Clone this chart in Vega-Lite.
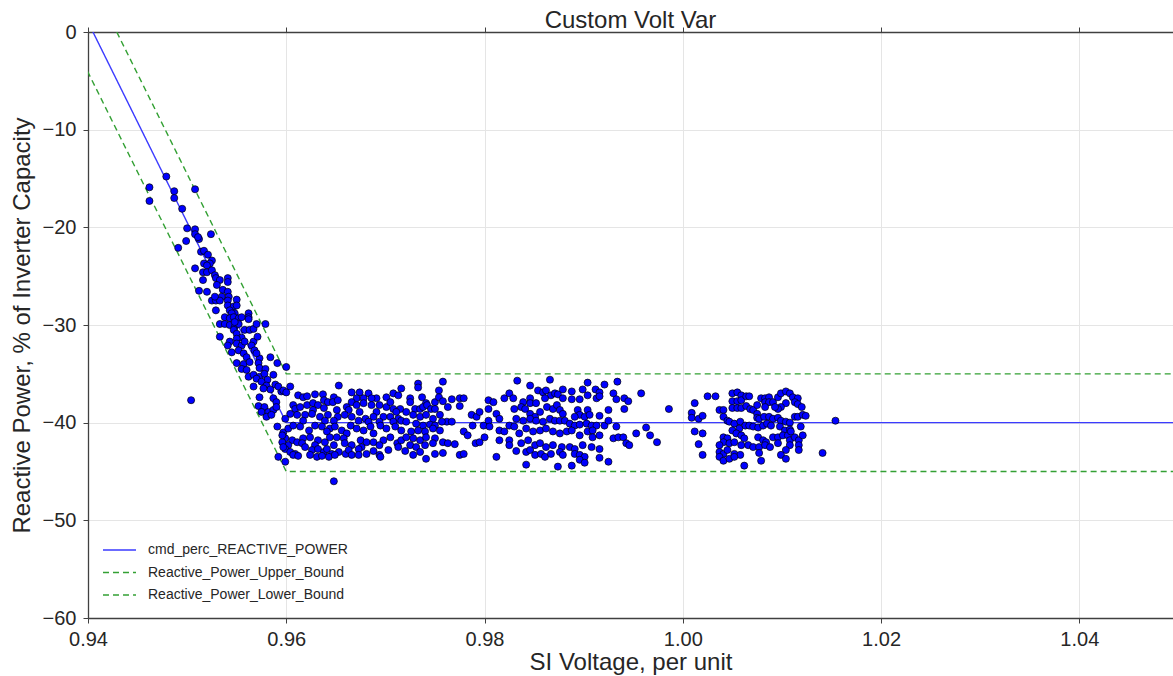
{
  "$schema": "https://vega.github.io/schema/vega-lite/v6.json",
  "width": 1085,
  "height": 586,
  "autosize": {"type": "none"},
  "padding": {"left": 88, "top": 32, "right": 0, "bottom": 58},
  "background": "#ffffff",
  "title": {"text": "Custom Volt Var", "fontSize": 24, "font": "Liberation Sans", "fontWeight": "normal", "color": "#262626", "anchor": "middle", "offset": -11},
  "config": {
    "view": {"stroke": null},
    "axis": {"labelFont": "Liberation Sans", "labelFontSize": 20, "labelColor": "#262626", "titleFont": "Liberation Sans", "titleFontSize": 24, "titleFontWeight": "normal", "titleColor": "#262626", "domainColor": "#404040", "domainWidth": 1.3, "tickColor": "#404040", "tickSize": 5, "tickWidth": 1, "gridColor": "#e5e5e5", "gridWidth": 1, "labelOverlap": false, "labelFlush": false}
  },
  "datasets": {
    "lines": [
      {"V": 0.9405, "Q": 0, "series": "cmd_perc_REACTIVE_POWER"},
      {"V": 0.96, "Q": -40, "series": "cmd_perc_REACTIVE_POWER"},
      {"V": 1.06, "Q": -40, "series": "cmd_perc_REACTIVE_POWER"},
      {"V": 0.9429, "Q": 0, "series": "Reactive_Power_Upper_Bound"},
      {"V": 0.96, "Q": -35, "series": "Reactive_Power_Upper_Bound"},
      {"V": 1.06, "Q": -35, "series": "Reactive_Power_Upper_Bound"},
      {"V": 0.9395, "Q": -3.1, "series": "Reactive_Power_Lower_Bound"},
      {"V": 0.96, "Q": -45, "series": "Reactive_Power_Lower_Bound"},
      {"V": 1.06, "Q": -45, "series": "Reactive_Power_Lower_Bound"}
    ],
    "pts": [
      {"V":0.9462,"Q":-15.9},{"V":0.9462,"Q":-17.3},{"V":0.9479,"Q":-14.8},{"V":0.9487,"Q":-16.3},{"V":0.9487,"Q":-17.0},{"V":0.9495,"Q":-18.1},{"V":0.9508,"Q":-16.1},{"V":0.9500,"Q":-20.1},{"V":0.9508,"Q":-20.2},{"V":0.9508,"Q":-20.7},{"V":0.9512,"Q":-21.2},{"V":0.9524,"Q":-20.7},{"V":0.9491,"Q":-22.1},{"V":0.9504,"Q":-37.7},
      {"V":0.9499,"Q":-21.4},{"V":0.9511,"Q":-21.0},{"V":0.9514,"Q":-22.5},{"V":0.9517,"Q":-22.4},{"V":0.9521,"Q":-22.8},{"V":0.9525,"Q":-23.4},{"V":0.9523,"Q":-23.7},{"V":0.9508,"Q":-24.2},{"V":0.9517,"Q":-23.7},{"V":0.9520,"Q":-23.9},
      {"V":0.9516,"Q":-24.6},{"V":0.9520,"Q":-24.6},{"V":0.9525,"Q":-24.4},{"V":0.9528,"Q":-24.9},{"V":0.9529,"Q":-25.2},{"V":0.9533,"Q":-25.4},{"V":0.9541,"Q":-25.2},{"V":0.9541,"Q":-25.6},{"V":0.9516,"Q":-25.4},
      {"V":0.9530,"Q":-25.9},{"V":0.9536,"Q":-26.4},{"V":0.9541,"Q":-26.6},{"V":0.9512,"Q":-26.5},{"V":0.9520,"Q":-26.6},{"V":0.9535,"Q":-27.1},{"V":0.9542,"Q":-27.1},
      {"V":0.9525,"Q":-27.5},{"V":0.9529,"Q":-27.5},{"V":0.9533,"Q":-27.5},{"V":0.9528,"Q":-27.1},{"V":0.9541,"Q":-27.5},{"V":0.9550,"Q":-27.4},{"V":0.9541,"Q":-28.0},{"V":0.9547,"Q":-28.1},{"V":0.9543,"Q":-28.5},{"V":0.9550,"Q":-28.0},{"V":0.9529,"Q":-28.5},{"V":0.9548,"Q":-28.8},{"V":0.9545,"Q":-28.8},{"V":0.9562,"Q":-28.8},{"V":0.9562,"Q":-29.2},
      {"V":0.9538,"Q":-29.2},{"V":0.9543,"Q":-29.3},{"V":0.9547,"Q":-29.2},{"V":0.9552,"Q":-29.3},{"V":0.9555,"Q":-29.2},{"V":0.9562,"Q":-29.4},{"V":0.9533,"Q":-29.9},{"V":0.9538,"Q":-29.9},{"V":0.9543,"Q":-30.0},{"V":0.9548,"Q":-30.2},{"V":0.9552,"Q":-29.9},{"V":0.9558,"Q":-30.5},{"V":0.9563,"Q":-30.5},{"V":0.9567,"Q":-30.4},{"V":0.9570,"Q":-29.9},{"V":0.9579,"Q":-29.9},{"V":0.9547,"Q":-30.5},{"V":0.9548,"Q":-29.7},
      {"V":0.9533,"Q":-31.2},{"V":0.9550,"Q":-30.9},{"V":0.9555,"Q":-31.3},{"V":0.9550,"Q":-31.4},{"V":0.9543,"Q":-31.7},{"V":0.9550,"Q":-31.9},{"V":0.9555,"Q":-32.1},{"V":0.9567,"Q":-31.7},{"V":0.9571,"Q":-31.2},{"V":0.9541,"Q":-32.1},{"V":0.9565,"Q":-32.1},{"V":0.9558,"Q":-31.7},
      {"V":0.9545,"Q":-32.8},{"V":0.9552,"Q":-32.6},{"V":0.9557,"Q":-32.9},{"V":0.9560,"Q":-33.3},{"V":0.9568,"Q":-32.6},{"V":0.9573,"Q":-33.4},{"V":0.9584,"Q":-33.3},{"V":0.9550,"Q":-33.9},{"V":0.9557,"Q":-34.0},{"V":0.9570,"Q":-32.9},{"V":0.9563,"Q":-33.8},{"V":0.9572,"Q":-33.9},
      {"V":0.9555,"Q":-34.5},{"V":0.9560,"Q":-34.6},{"V":0.9573,"Q":-34.4},{"V":0.9579,"Q":-34.5},{"V":0.9591,"Q":-33.9},{"V":0.9562,"Q":-35.3},{"V":0.9567,"Q":-35.1},{"V":0.9573,"Q":-35.3},{"V":0.9570,"Q":-35.5},{"V":0.9578,"Q":-35.0},{"V":0.9587,"Q":-35.1},{"V":0.9581,"Q":-35.6},
      {"V":0.9567,"Q":-36.3},{"V":0.9575,"Q":-35.8},{"V":0.9580,"Q":-36.2},{"V":0.9584,"Q":-36.6},{"V":0.9589,"Q":-36.1},{"V":0.9595,"Q":-36.8},{"V":0.9577,"Q":-36.5},{"V":0.9592,"Q":-36.3},
      {"V":0.9573,"Q":-37.4},{"V":0.9587,"Q":-37.5},{"V":0.9590,"Q":-37.9},{"V":0.9572,"Q":-38.3},{"V":0.9578,"Q":-38.4},{"V":0.9575,"Q":-38.9},{"V":0.9582,"Q":-38.9},{"V":0.9587,"Q":-38.7},{"V":0.9590,"Q":-38.4},{"V":0.9580,"Q":-39.4},{"V":0.9585,"Q":-39.2},{"V":0.9591,"Q":-40.4},{"V":0.9592,"Q":-43.5},
      {"V":0.9600,"Q":-34.3},{"V":0.9604,"Q":-36.3},{"V":0.9653,"Q":-36.2},{"V":0.9666,"Q":-36.9},{"V":0.9674,"Q":-36.9},{"V":0.9683,"Q":-37.0},{"V":0.9691,"Q":-37.5},{"V":0.9701,"Q":-37.4},{"V":0.9708,"Q":-37.0},{"V":0.9713,"Q":-37.2},{"V":0.9716,"Q":-36.5},
      {"V":0.9612,"Q":-37.2},{"V":0.9617,"Q":-37.4},{"V":0.9621,"Q":-37.3},{"V":0.9629,"Q":-37.1},{"V":0.9637,"Q":-37.1},{"V":0.9648,"Q":-37.4},{"V":0.9638,"Q":-37.7},{"V":0.9671,"Q":-37.5},{"V":0.9678,"Q":-37.5},{"V":0.9686,"Q":-37.5},{"V":0.9597,"Q":-36.7},{"V":0.9600,"Q":-36.9},
      {"V":0.9607,"Q":-38.2},{"V":0.9609,"Q":-38.6},{"V":0.9614,"Q":-38.4},{"V":0.9621,"Q":-38.2},{"V":0.9627,"Q":-38.0},{"V":0.9632,"Q":-38.2},{"V":0.9642,"Q":-37.9},{"V":0.9647,"Q":-37.9},{"V":0.9652,"Q":-37.7},{"V":0.9661,"Q":-38.4},{"V":0.9666,"Q":-37.9},{"V":0.9671,"Q":-38.2},{"V":0.9678,"Q":-38.0},{"V":0.9686,"Q":-38.2},{"V":0.9694,"Q":-38.2},{"V":0.9701,"Q":-38.4},{"V":0.9708,"Q":-38.6},{"V":0.9715,"Q":-38.6},
      {"V":0.9627,"Q":-38.7},{"V":0.9638,"Q":-38.5},{"V":0.9651,"Q":-38.7},{"V":0.9663,"Q":-38.7},{"V":0.9674,"Q":-38.9},{"V":0.9691,"Q":-38.9},{"V":0.9705,"Q":-37.9},{"V":0.9711,"Q":-38.9},
      {"V":0.9604,"Q":-39.1},{"V":0.9611,"Q":-39.2},{"V":0.9619,"Q":-39.2},{"V":0.9626,"Q":-39.1},{"V":0.9634,"Q":-39.4},{"V":0.9642,"Q":-39.2},{"V":0.9652,"Q":-39.4},{"V":0.9659,"Q":-39.2},{"V":0.9666,"Q":-39.4},{"V":0.9680,"Q":-39.6},{"V":0.9688,"Q":-39.4},{"V":0.9698,"Q":-39.4},{"V":0.9705,"Q":-39.4},{"V":0.9713,"Q":-39.6},{"V":0.9716,"Q":-39.8},
      {"V":0.9599,"Q":-39.6},{"V":0.9617,"Q":-39.8},{"V":0.9639,"Q":-39.8},{"V":0.9648,"Q":-39.8},{"V":0.9673,"Q":-39.8},{"V":0.9683,"Q":-39.9},{"V":0.9694,"Q":-39.9},{"V":0.9708,"Q":-39.9},
      {"V":0.9597,"Q":-41.0},{"V":0.9602,"Q":-40.6},{"V":0.9607,"Q":-40.3},{"V":0.9629,"Q":-40.3},{"V":0.9636,"Q":-40.4},{"V":0.9644,"Q":-40.6},{"V":0.9649,"Q":-40.4},{"V":0.9656,"Q":-40.8},{"V":0.9665,"Q":-40.3},{"V":0.9671,"Q":-40.6},{"V":0.9678,"Q":-40.8},{"V":0.9685,"Q":-40.4},{"V":0.9695,"Q":-40.3},{"V":0.9701,"Q":-40.6},{"V":0.9710,"Q":-40.4},{"V":0.9716,"Q":-40.8},
      {"V":0.9614,"Q":-40.4},{"V":0.9623,"Q":-40.8},{"V":0.9641,"Q":-40.9},{"V":0.9661,"Q":-41.1},{"V":0.9688,"Q":-41.1},
      {"V":0.9599,"Q":-41.6},{"V":0.9606,"Q":-41.8},{"V":0.9611,"Q":-42.0},{"V":0.9617,"Q":-41.6},{"V":0.9624,"Q":-41.5},{"V":0.9632,"Q":-41.8},{"V":0.9639,"Q":-42.0},{"V":0.9644,"Q":-41.5},{"V":0.9651,"Q":-41.5},{"V":0.9658,"Q":-41.6},{"V":0.9659,"Q":-42.1},{"V":0.9675,"Q":-41.8},{"V":0.9681,"Q":-42.0},{"V":0.9688,"Q":-42.0},{"V":0.9698,"Q":-41.8},{"V":0.9705,"Q":-41.5},{"V":0.9712,"Q":-42.1},{"V":0.9716,"Q":-41.8},
      {"V":0.9602,"Q":-42.3},{"V":0.9629,"Q":-42.3},{"V":0.9648,"Q":-42.3},{"V":0.9666,"Q":-42.3},{"V":0.9676,"Q":-42.5},{"V":0.9694,"Q":-42.3},
      {"V":0.9599,"Q":-42.7},{"V":0.9604,"Q":-43.0},{"V":0.9609,"Q":-43.2},{"V":0.9616,"Q":-42.1},{"V":0.9619,"Q":-42.5},{"V":0.9626,"Q":-42.8},{"V":0.9632,"Q":-42.7},{"V":0.9638,"Q":-43.0},{"V":0.9641,"Q":-42.7},{"V":0.9646,"Q":-43.2},{"V":0.9653,"Q":-43.0},{"V":0.9660,"Q":-43.2},{"V":0.9663,"Q":-42.8},{"V":0.9666,"Q":-43.3},{"V":0.9673,"Q":-42.7},{"V":0.9681,"Q":-43.2},{"V":0.9688,"Q":-42.9},{"V":0.9694,"Q":-43.3},{"V":0.9703,"Q":-42.8},{"V":0.9713,"Q":-42.5},
      {"V":0.9607,"Q":-43.3},{"V":0.9612,"Q":-43.4},{"V":0.9624,"Q":-43.3},{"V":0.9631,"Q":-43.5},{"V":0.9636,"Q":-43.4},{"V":0.9643,"Q":-43.5},{"V":0.9649,"Q":-43.3},{"V":0.9673,"Q":-43.3},{"V":0.9695,"Q":-43.5},
      {"V":0.9596,"Q":-42.0},{"V":0.9597,"Q":-42.5},{"V":0.9596,"Q":-41.3},{"V":0.9599,"Q":-44.0},{"V":0.9648,"Q":-46.0},
      {"V":0.9725,"Q":-37.5},{"V":0.9725,"Q":-37.9},{"V":0.9733,"Q":-36.0},{"V":0.9733,"Q":-36.4},{"V":0.9737,"Q":-37.4},{"V":0.9741,"Q":-38.0},{"V":0.9750,"Q":-37.9},{"V":0.9754,"Q":-36.7},{"V":0.9754,"Q":-37.4},{"V":0.9758,"Q":-35.8},{"V":0.9758,"Q":-37.8},{"V":0.9763,"Q":-38.4},{"V":0.9767,"Q":-37.6},{"V":0.9775,"Q":-37.5},{"V":0.9779,"Q":-37.5},{"V":0.9775,"Q":-38.3},
      {"V":0.9730,"Q":-38.6},{"V":0.9735,"Q":-38.6},{"V":0.9738,"Q":-38.4},{"V":0.9742,"Q":-38.2},{"V":0.9746,"Q":-38.6},{"V":0.9750,"Q":-38.6},
      {"V":0.9721,"Q":-38.9},{"V":0.9728,"Q":-39.2},{"V":0.9735,"Q":-39.4},{"V":0.9741,"Q":-39.2},{"V":0.9748,"Q":-39.6},{"V":0.9755,"Q":-39.2},{"V":0.9762,"Q":-39.9},{"V":0.9767,"Q":-39.9},
      {"V":0.9721,"Q":-39.9},{"V":0.9731,"Q":-40.1},{"V":0.9738,"Q":-40.3},{"V":0.9745,"Q":-40.2},{"V":0.9750,"Q":-40.3},{"V":0.9757,"Q":-39.9},
      {"V":0.9726,"Q":-40.9},{"V":0.9733,"Q":-40.8},{"V":0.9740,"Q":-40.9},{"V":0.9748,"Q":-40.6},{"V":0.9755,"Q":-40.8},
      {"V":0.9721,"Q":-41.5},{"V":0.9728,"Q":-41.6},{"V":0.9735,"Q":-41.8},{"V":0.9741,"Q":-41.5},{"V":0.9750,"Q":-41.6},{"V":0.9758,"Q":-42.0},{"V":0.9763,"Q":-42.1},{"V":0.9770,"Q":-42.2},
      {"V":0.9725,"Q":-42.3},{"V":0.9731,"Q":-42.5},{"V":0.9740,"Q":-42.3},{"V":0.9748,"Q":-42.1},
      {"V":0.9720,"Q":-42.9},{"V":0.9728,"Q":-43.3},{"V":0.9735,"Q":-43.0},{"V":0.9741,"Q":-43.7},{"V":0.9750,"Q":-43.2},{"V":0.9758,"Q":-43.1},{"V":0.9775,"Q":-43.3},{"V":0.9779,"Q":-43.2},
      {"V":0.9779,"Q":-40.9},{"V":0.9783,"Q":-41.3},{"V":0.9787,"Q":-39.2},{"V":0.9788,"Q":-40.3},{"V":0.9792,"Q":-39.4},{"V":0.9795,"Q":-38.9},{"V":0.9791,"Q":-42.1},{"V":0.9795,"Q":-42.0},{"V":0.9800,"Q":-41.5},
      {"V":0.9804,"Q":-37.7},{"V":0.9804,"Q":-38.6},{"V":0.9809,"Q":-37.9},{"V":0.9804,"Q":-39.8},{"V":0.9799,"Q":-40.3},{"V":0.9805,"Q":-40.4},{"V":0.9812,"Q":-39.1},{"V":0.9815,"Q":-39.6},{"V":0.9812,"Q":-43.5},{"V":0.9815,"Q":-40.8},{"V":0.9815,"Q":-41.8},{"V":0.9820,"Q":-40.9},{"V":0.9820,"Q":-37.5},{"V":0.9825,"Q":-37.0},{"V":0.9825,"Q":-41.8},{"V":0.9829,"Q":-37.5},{"V":0.9825,"Q":-42.3},
      {"V":0.9825,"Q":-40.3},{"V":0.9830,"Q":-40.4},{"V":0.9832,"Q":-39.6},{"V":0.9833,"Q":-35.7},{"V":0.9835,"Q":-41.1},{"V":0.9832,"Q":-42.9},{"V":0.9830,"Q":-38.6},
      {"V":0.9846,"Q":-36.2},{"V":0.9866,"Q":-35.6},{"V":0.9839,"Q":-37.9},{"V":0.9837,"Q":-38.4},{"V":0.9846,"Q":-37.5},{"V":0.9846,"Q":-38.0},{"V":0.9852,"Q":-38.0},
      {"V":0.9854,"Q":-36.7},{"V":0.9859,"Q":-36.9},{"V":0.9862,"Q":-36.7},{"V":0.9867,"Q":-37.2},{"V":0.9871,"Q":-37.0},{"V":0.9874,"Q":-37.1},{"V":0.9879,"Q":-36.6},{"V":0.9888,"Q":-36.8},{"V":0.9896,"Q":-37.6},{"V":0.9888,"Q":-37.6},{"V":0.9879,"Q":-37.5},{"V":0.9861,"Q":-37.5},
      {"V":0.9904,"Q":-35.9},{"V":0.9899,"Q":-36.6},{"V":0.9904,"Q":-37.2},{"V":0.9912,"Q":-36.6},{"V":0.9916,"Q":-36.9},{"V":0.9913,"Q":-37.5},{"V":0.9916,"Q":-37.3},{"V":0.9921,"Q":-36.1},{"V":0.9930,"Q":-37.0},{"V":0.9934,"Q":-35.8},{"V":0.9933,"Q":-37.6},{"V":0.9941,"Q":-37.5},{"V":0.9945,"Q":-37.8},{"V":0.9941,"Q":-38.6},{"V":0.9958,"Q":-37.0},
      {"V":0.9841,"Q":-38.6},{"V":0.9846,"Q":-39.1},{"V":0.9851,"Q":-39.4},{"V":0.9856,"Q":-38.9},{"V":0.9863,"Q":-38.4},{"V":0.9869,"Q":-38.6},{"V":0.9873,"Q":-38.2},{"V":0.9876,"Q":-38.7},{"V":0.9879,"Q":-39.1},{"V":0.9894,"Q":-38.7},{"V":0.9904,"Q":-38.7},{"V":0.9896,"Q":-39.2},{"V":0.9891,"Q":-39.4},{"V":0.9901,"Q":-39.4},{"V":0.9906,"Q":-39.2},{"V":0.9916,"Q":-39.3},{"V":0.9925,"Q":-38.7},
      {"V":0.9839,"Q":-39.8},{"V":0.9846,"Q":-39.6},{"V":0.9852,"Q":-39.8},{"V":0.9859,"Q":-39.9},{"V":0.9866,"Q":-39.6},{"V":0.9871,"Q":-39.8},{"V":0.9876,"Q":-39.8},{"V":0.9881,"Q":-39.8},{"V":0.9886,"Q":-40.1},{"V":0.9891,"Q":-40.3},{"V":0.9896,"Q":-40.2},{"V":0.9903,"Q":-40.1},{"V":0.9908,"Q":-40.3},{"V":0.9913,"Q":-40.3},{"V":0.9921,"Q":-40.3},{"V":0.9925,"Q":-39.8},{"V":0.9933,"Q":-40.4},
      {"V":0.9842,"Q":-40.6},{"V":0.9849,"Q":-40.9},{"V":0.9856,"Q":-40.8},{"V":0.9862,"Q":-40.6},{"V":0.9869,"Q":-40.9},{"V":0.9876,"Q":-41.1},{"V":0.9883,"Q":-40.9},{"V":0.9888,"Q":-40.8},{"V":0.9896,"Q":-41.3},{"V":0.9904,"Q":-40.9},{"V":0.9909,"Q":-40.8},{"V":0.9916,"Q":-41.3},{"V":0.9909,"Q":-41.5},{"V":0.9930,"Q":-41.6},{"V":0.9935,"Q":-41.5},{"V":0.9940,"Q":-41.5},{"V":0.9943,"Q":-42.1},{"V":0.9946,"Q":-42.3},{"V":0.9953,"Q":-41.1},
      {"V":0.9837,"Q":-42.1},{"V":0.9844,"Q":-41.8},{"V":0.9851,"Q":-42.3},{"V":0.9856,"Q":-42.1},{"V":0.9862,"Q":-42.5},{"V":0.9869,"Q":-42.3},{"V":0.9878,"Q":-42.5},{"V":0.9886,"Q":-42.5},{"V":0.9891,"Q":-42.7},{"V":0.9899,"Q":-42.3},{"V":0.9908,"Q":-42.5},{"V":0.9916,"Q":-42.7},
      {"V":0.9842,"Q":-43.0},{"V":0.9846,"Q":-42.8},{"V":0.9851,"Q":-43.3},{"V":0.9857,"Q":-43.2},{"V":0.9861,"Q":-43.5},{"V":0.9867,"Q":-43.2},{"V":0.9876,"Q":-43.0},{"V":0.9879,"Q":-43.3},{"V":0.9891,"Q":-43.2},{"V":0.9896,"Q":-43.3},{"V":0.9901,"Q":-43.5},{"V":0.9896,"Q":-43.8},{"V":0.9916,"Q":-43.6},{"V":0.9925,"Q":-44.0},{"V":0.9842,"Q":-44.3},{"V":0.9874,"Q":-44.5},{"V":0.9888,"Q":-44.4},{"V":0.9901,"Q":-44.1},
      {"V":0.9963,"Q":-40.5},{"V":0.9967,"Q":-41.3},{"V":0.9974,"Q":-42.0},{"V":0.9986,"Q":-38.6},
      {"V":1.0009,"Q":-39.0},{"V":1.0009,"Q":-39.5},{"V":1.0012,"Q":-38.0},{"V":1.0016,"Q":-39.6},{"V":1.0020,"Q":-39.3},{"V":1.0012,"Q":-40.9},{"V":1.0020,"Q":-41.1},{"V":1.0016,"Q":-42.2},{"V":1.0020,"Q":-43.3},{"V":1.0025,"Q":-37.3},{"V":1.0033,"Q":-37.3},
      {"V":1.0037,"Q":-38.7},{"V":1.0041,"Q":-38.7},{"V":1.0041,"Q":-39.4},{"V":1.0045,"Q":-39.8},
      {"V":1.0050,"Q":-37.0},{"V":1.0055,"Q":-36.9},{"V":1.0059,"Q":-37.2},{"V":1.0050,"Q":-37.8},{"V":1.0055,"Q":-37.8},{"V":1.0059,"Q":-37.7},{"V":1.0064,"Q":-37.3},{"V":1.0067,"Q":-37.3},{"V":1.0050,"Q":-38.5},{"V":1.0055,"Q":-38.5},{"V":1.0059,"Q":-38.5},{"V":1.0064,"Q":-38.3},{"V":1.0068,"Q":-38.6},{"V":1.0071,"Q":-38.7},{"V":1.0075,"Q":-38.2},{"V":1.0079,"Q":-37.5},{"V":1.0075,"Q":-39.1},{"V":1.0075,"Q":-39.5},
      {"V":1.0083,"Q":-37.5},{"V":1.0087,"Q":-37.4},{"V":1.0083,"Q":-37.9},{"V":1.0087,"Q":-37.9},{"V":1.0083,"Q":-38.4},{"V":1.0091,"Q":-37.9},{"V":1.0096,"Q":-37.4},{"V":1.0099,"Q":-37.0},{"V":1.0104,"Q":-36.8},{"V":1.0108,"Q":-37.0},{"V":1.0111,"Q":-37.4},{"V":1.0116,"Q":-37.5},{"V":1.0113,"Q":-37.9},{"V":1.0116,"Q":-38.1},{"V":1.0120,"Q":-38.4},{"V":1.0104,"Q":-38.0},{"V":1.0099,"Q":-38.4},{"V":1.0096,"Q":-38.6},{"V":1.0093,"Q":-38.4},
      {"V":1.0077,"Q":-39.6},{"V":1.0082,"Q":-39.4},{"V":1.0087,"Q":-39.4},{"V":1.0091,"Q":-39.6},{"V":1.0096,"Q":-39.5},{"V":1.0099,"Q":-39.8},{"V":1.0104,"Q":-39.9},{"V":1.0108,"Q":-40.0},{"V":1.0113,"Q":-39.4},{"V":1.0116,"Q":-39.4},{"V":1.0121,"Q":-39.2},{"V":1.0124,"Q":-39.3},
      {"V":1.0047,"Q":-39.9},{"V":1.0052,"Q":-40.1},{"V":1.0058,"Q":-39.9},{"V":1.0063,"Q":-40.3},{"V":1.0067,"Q":-40.3},{"V":1.0071,"Q":-40.4},{"V":1.0076,"Q":-40.5},{"V":1.0081,"Q":-40.3},{"V":1.0085,"Q":-40.1},{"V":1.0089,"Q":-40.3},{"V":1.0050,"Q":-40.8},{"V":1.0057,"Q":-40.6},{"V":1.0098,"Q":-40.4},{"V":1.0103,"Q":-40.8},{"V":1.0108,"Q":-40.7},{"V":1.0119,"Q":-40.4},
      {"V":1.0054,"Q":-41.1},{"V":1.0059,"Q":-41.3},{"V":1.0062,"Q":-41.6},{"V":1.0076,"Q":-41.5},{"V":1.0081,"Q":-41.8},{"V":1.0084,"Q":-42.0},{"V":1.0091,"Q":-41.5},{"V":1.0096,"Q":-41.5},{"V":1.0101,"Q":-41.3},{"V":1.0106,"Q":-41.3},{"V":1.0109,"Q":-40.9},{"V":1.0108,"Q":-41.8},{"V":1.0108,"Q":-42.3},{"V":1.0113,"Q":-41.5},{"V":1.0117,"Q":-41.8},{"V":1.0117,"Q":-42.3},{"V":1.0117,"Q":-42.8},{"V":1.0121,"Q":-41.3},
      {"V":1.0041,"Q":-41.5},{"V":1.0045,"Q":-41.6},{"V":1.0041,"Q":-42.0},{"V":1.0037,"Q":-42.3},{"V":1.0047,"Q":-42.1},{"V":1.0052,"Q":-42.0},{"V":1.0059,"Q":-42.3},{"V":1.0066,"Q":-42.3},{"V":1.0071,"Q":-42.5},{"V":1.0077,"Q":-42.5},{"V":1.0083,"Q":-42.3},{"V":1.0088,"Q":-42.5},{"V":1.0096,"Q":-42.1},{"V":1.0104,"Q":-42.8},
      {"V":1.0037,"Q":-43.0},{"V":1.0041,"Q":-43.2},{"V":1.0045,"Q":-42.8},{"V":1.0052,"Q":-43.2},{"V":1.0058,"Q":-43.3},{"V":1.0037,"Q":-43.5},{"V":1.0041,"Q":-43.9},{"V":1.0047,"Q":-43.7},{"V":1.0052,"Q":-43.5},{"V":1.0077,"Q":-43.1},{"V":1.0079,"Q":-43.9},{"V":1.0099,"Q":-43.3},{"V":1.0104,"Q":-43.7},{"V":1.0062,"Q":-44.4},{"V":1.0141,"Q":-43.1},{"V":1.0154,"Q":-39.8}
    ]
  },
  "layer": [
    {
      "data": {"name": "lines"},
      "mark": {"type": "line", "clip": true, "strokeWidth": 1.4},
      "encoding": {
        "x": {"field": "V", "type": "quantitative", "scale": {"domain": [0.94, 1.04945], "nice": false, "zero": false},
              "axis": {"orient": "bottom", "values": [0.94, 0.96, 0.98, 1.0, 1.02, 1.04], "format": ".2f", "title": "SI Voltage, per unit", "labelPadding": 6, "titlePadding": 1, "grid": true}},
        "y": {"field": "Q", "type": "quantitative", "scale": {"domain": [-60, 0], "nice": false, "zero": false},
              "axis": {"values": [-60, -50, -40, -30, -20, -10, 0], "format": "d", "title": "Reactive Power, % of Inverter Capacity", "labelPadding": 7, "titlePadding": 8, "grid": true}},
        "color": {"field": "series", "type": "nominal",
                  "scale": {"domain": ["cmd_perc_REACTIVE_POWER", "Reactive_Power_Upper_Bound", "Reactive_Power_Lower_Bound"], "range": ["#3b3bff", "#33a033", "#33a034"]},
                  "legend": {"orient": "none", "legendX": 14, "legendY": 510, "title": null, "symbolType": "stroke", "symbolSize": 1089, "symbolStrokeWidth": 1.4, "clipHeight": 16, "labelFont": "Liberation Sans", "labelFontSize": 14, "labelColor": "#262626", "labelOffset": 11, "labelLimit": 500, "rowPadding": 6.5, "padding": 0,
                             "encode": {"symbols": {"update": {"stroke": {"scale": "color", "field": "value"}, "strokeDash": {"scale": "strokeDash", "field": "value"}}}}}},
        "strokeDash": {"field": "series", "type": "nominal",
                  "scale": {"domain": ["cmd_perc_REACTIVE_POWER", "Reactive_Power_Upper_Bound", "Reactive_Power_Lower_Bound"], "range": [[1, 0], [6, 4], [6, 4.01]]},
                  "legend": null}
      }
    },
    {
      "data": {"name": "pts"},
      "mark": {"type": "circle", "fill": "#0000ff", "stroke": "#000000", "strokeWidth": 0.7, "size": 50, "opacity": 1, "fillOpacity": 1, "clip": true},
      "encoding": {
        "x": {"field": "V", "type": "quantitative",
              "axis": {"orient": "top", "values": [0.94, 0.96, 0.98, 1.0, 1.02, 1.04], "labels": false, "title": null, "grid": false}},
        "y": {"field": "Q", "type": "quantitative"}
      }
    }
  ],
  "resolve": {"axis": {"x": "independent"}}
}
